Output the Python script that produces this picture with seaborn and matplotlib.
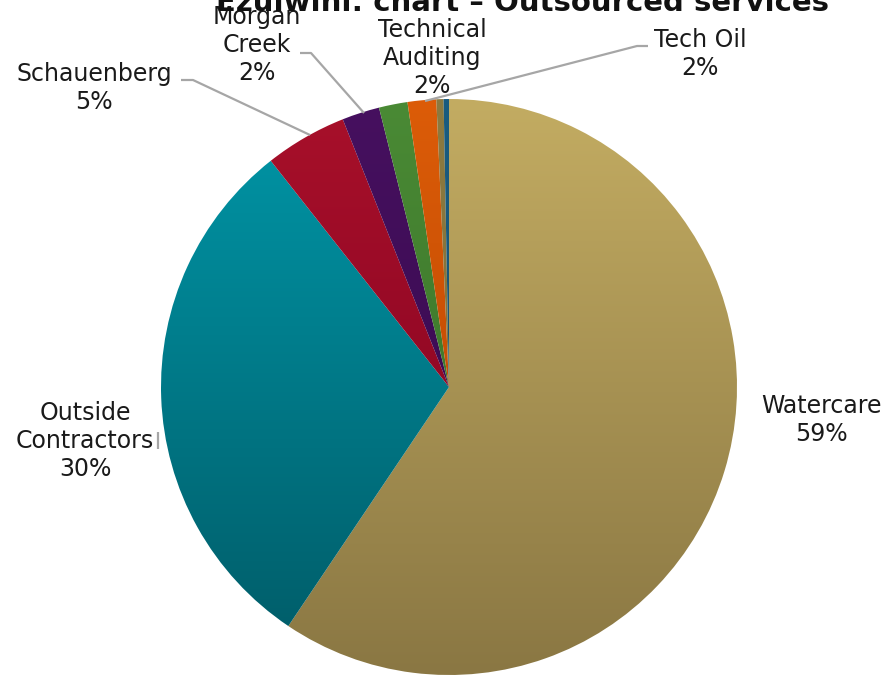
import numpy as np
import matplotlib
matplotlib.use("Agg")
import matplotlib.pyplot as plt
import seaborn as sns
from matplotlib.colors import LinearSegmentedColormap

sns.set_theme(style="white")
plt.rcParams['font.family'] = ['DejaVu Sans']

# ---- data ----
categories = ["Watercare", "Outside\nContractors", "Schauenberg", "Morgan\nCreek",
              "Technical\nAuditing", "Tech Oil", "Other A", "Other B"]
values = [59.3, 29.9, 4.6, 2.1, 1.6, 1.6, 0.4, 0.3]
pct_labels = ["59%", "30%", "5%", "2%", "2%", "2%", "", ""]
show_label = [True, True, True, True, True, True, False, False]
title = "Ezulwini: chart \u2013 Outsourced services"

# ---- style ----
top_colors = ["#C3AC62", "#0097A8", "#A8102A", "#46105F", "#4A8A35", "#DC5C08", "#8C7A40", "#1A5C80"]
bot_colors = ["#8A7743", "#005A66", "#7E0020", "#34084A", "#346A24", "#B04000", "#7A6A35", "#154C6A"]

W, H = 884, 683
fig = plt.figure(figsize=(W / 100, H / 100), dpi=100)
ax = fig.add_axes([0, 0, 1, 1])

cx, cy, R = 449, H - 387, 288
wedges, _ = ax.pie(values, center=(cx, cy), radius=R, startangle=90, counterclock=False,
                   wedgeprops=dict(linewidth=0), frame=True)
ax.set_xlim(0, W)
ax.set_ylim(0, H)
ax.set_axis_off()

grad = np.linspace(0, 1, 256).reshape(-1, 1)
for w, ct, cb in zip(wedges, top_colors, bot_colors):
    cmap = LinearSegmentedColormap.from_list("g", [cb, ct])
    w.set_facecolor("none")
    im = ax.imshow(grad, cmap=cmap, origin="lower", aspect="auto",
                   extent=[cx - R, cx + R, cy - R, cy + R], zorder=1)
    im.set_clip_path(w)

# labels (pixel positions, y from top)
label_pos = [(821, 420), (85, 441), (94, 88), (257, 45), (432, 58), (700, 54), (0, 0), (0, 0)]
for cat, pct, (px, py), show in zip(categories, pct_labels, label_pos, show_label):
    if not show:
        continue
    ax.text(px, H - py, cat + "\n" + pct, ha="center", va="center", fontsize=17,
            color="#1a1a1a", linespacing=1.2, zorder=5)

# leader lines
gray = "#A6A6A6"
leaders = [
    [(181, 80), (193, 80), (310, 135)],
    [(300, 53), (311, 53), (364, 113)],
    [(648, 46), (637, 46), (425, 101)],
    [(158, 432), (158, 449)],
]
for pts in leaders:
    xs = [p[0] for p in pts]
    ys = [H - p[1] for p in pts]
    ax.plot(xs, ys, color=gray, lw=1.6, zorder=4, solid_capstyle="butt")

fig.text(522 / W, 1 - 11 / H, title, ha="center", va="baseline", fontsize=21,
         fontweight="bold", color="#111111")

fig.savefig("out.png", dpi=100, facecolor="white")
